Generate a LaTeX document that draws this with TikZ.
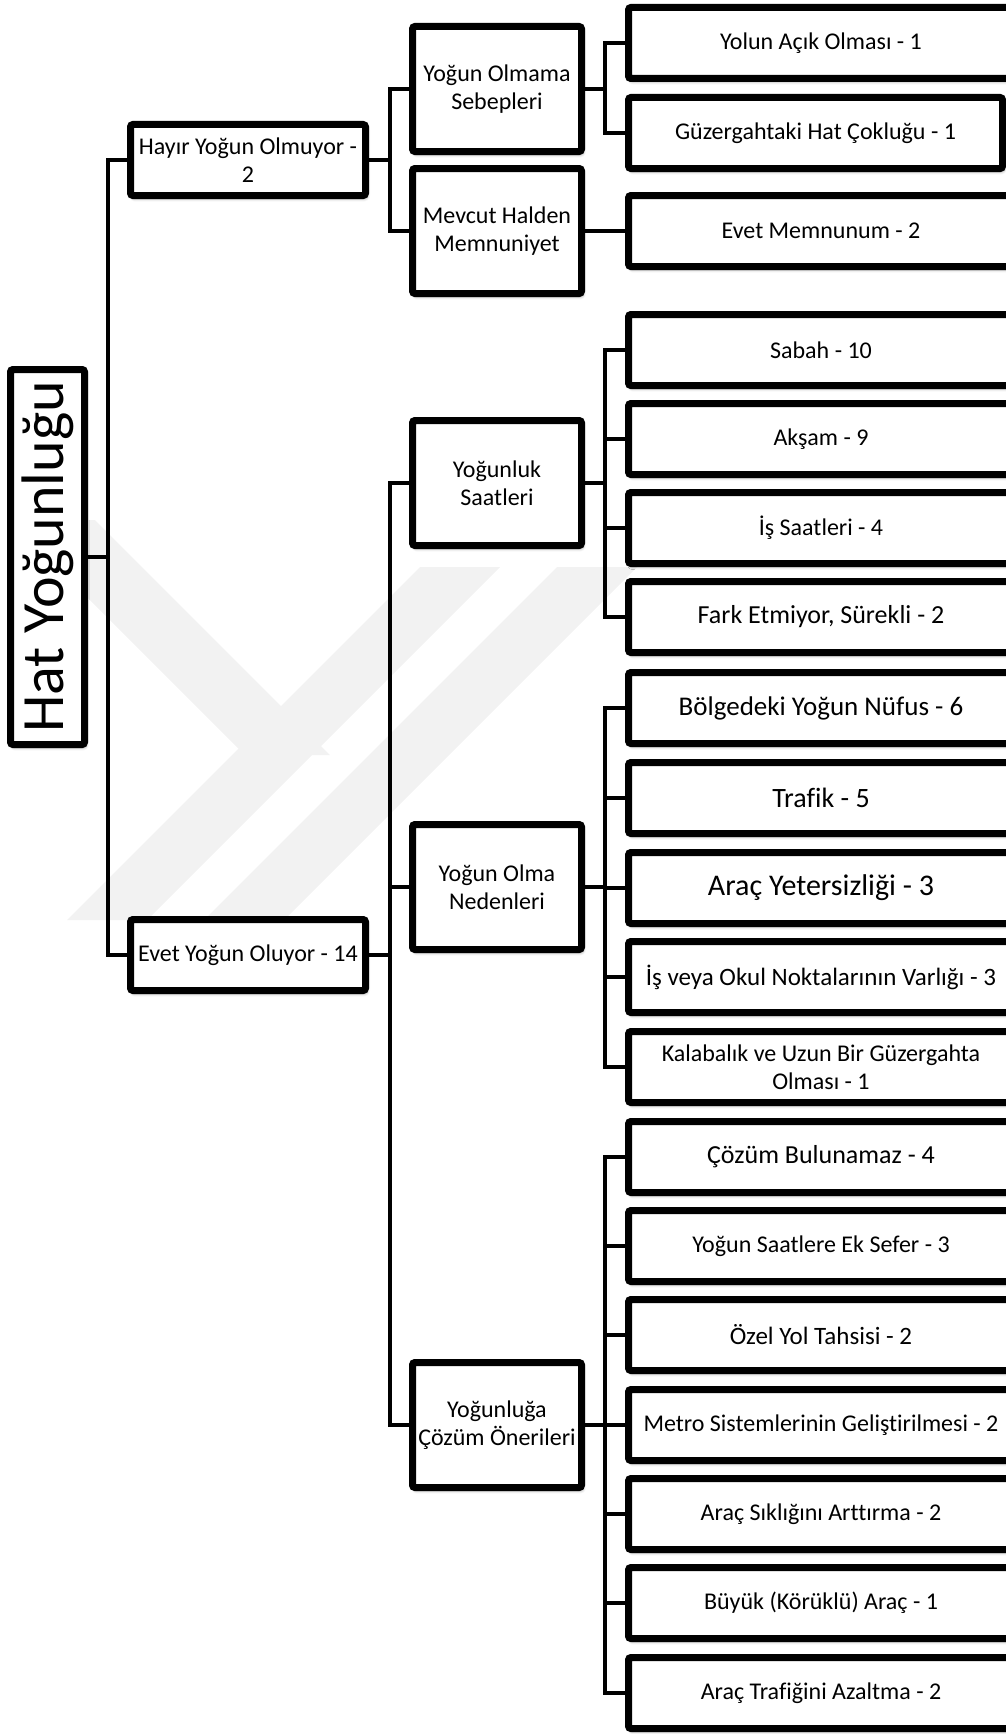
\documentclass[tikz,border=0pt]{standalone}
\usepackage{fontspec}
\usepackage{graphicx}
\setmainfont{Carlito}[Ligatures={NoCommon,NoContextual}]
\usetikzlibrary{shadows.blur}
\pgfdeclarelayer{mark}
\pgfdeclarelayer{wires}
\pgfsetlayers{mark,wires,main}

\newcommand{\fsz}[1]{\fontsize{#1}{28}\selectfont}

\begin{document}
\begin{tikzpicture}[x=1pt,y=-1pt,
  box/.style={draw=black, line width=7pt, rounded corners=2.5pt, fill=white,
    align=center, inner sep=0pt,
    blur shadow={shadow xshift=1.5pt, shadow yshift=-3pt, shadow blur radius=3pt, shadow opacity=45},
    font=\fsz{24}},
  leaf/.style={box, minimum width=385pt, minimum height=71pt},
  mid/.style={box, minimum width=169pt, minimum height=125pt},
  top/.style={box, minimum width=235pt, minimum height=71pt},
  conn/.style={line width=4.5pt, line join=miter},
  band/.style={fill=black!5, draw=none}
]
\useasboundingbox (0,0) rectangle (1006,1734);

% root
\node[box, minimum width=74pt, minimum height=375pt] (root) at (47.5,557)
  {\rotatebox{90}{\fontsize{60}{64}\selectfont Hat Yoğunluğu}};

% first level
\node[top] (hayir) at (248,160) {Hayır Yoğun Olmuyor -\\2};
\node[top] (evet)  at (248,955) {Evet Yoğun Oluyor - 14};

% second level
\node[mid] (olmama)  at (497,89)   {Yoğun Olmama\\Sebepleri};
\node[mid] (mevcut)  at (497,231)  {Mevcut Halden\\Memnuniyet};
\node[mid] (saat)    at (497,483)  {Yoğunluk\\Saatleri};
\node[mid] (neden)   at (497,887)  {Yoğun Olma\\Nedenleri};
\node[mid] (oneri)   at (497,1425) {Yoğunluğa\\Çözüm Önerileri};

% leaves
\node[leaf] (l1) at (821,43) {Yolun Açık Olması - 1};
\node[leaf, minimum width=374pt] (l2) at (815.5,133) {Güzergahtaki Hat Çokluğu - 1};
\node[leaf] (l3) at (821,231) {Evet Memnunum - 2};

\node[leaf] (s1) at (821,350) {Sabah - 10};
\node[leaf] (s2) at (821,439) {Akşam - 9};
\node[leaf] (s3) at (821,528) {İş Saatleri - 4};
\node[leaf, font=\fsz{26}] (s4) at (821,617) {Fark Etmiyor, Sürekli - 2};

\node[leaf, font=\fsz{27}] (n1) at (821,708) {Bölgedeki Yoğun Nüfus - 6};
\node[leaf, font=\fsz{28}] (n2) at (821,798) {Trafik - 5};
\node[leaf, font=\fsz{30}] (n3) at (821,888) {Araç Yetersizliği - 3};
\node[leaf, font=\fsz{25}] (n4) at (821,977) {İş veya Okul Noktalarının Varlığı - 3};
\node[leaf] (n5) at (821,1067) {Kalabalık ve Uzun Bir Güzergahta\\Olması - 1};

\node[leaf, font=\fsz{26}] (c1) at (821,1157) {Çözüm Bulunamaz - 4};
\node[leaf] (c2) at (821,1246) {Yoğun Saatlere Ek Sefer - 3};
\node[leaf, font=\fsz{25}] (c3) at (821,1335) {Özel Yol Tahsisi - 2};
\node[leaf] (c4) at (821,1425) {Metro Sistemlerinin Geliştirilmesi - 2};
\node[leaf] (c5) at (821,1514) {Araç Sıklığını Arttırma - 2};
\node[leaf] (c6) at (821,1603) {Büyük (Körüklü) Araç - 1};
\node[leaf] (c7) at (821,1693) {Araç Trafiğini Azaltma - 2};

% bus positions
\coordinate (bA) at (108,0);
\coordinate (bB) at (390,0);
\coordinate (bC) at (605,0);

% faint logo in the background
\begin{pgfonlayer}{mark}
  \fill[band] (10,520) -- (95,520) -- (330,755) -- (245,755) -- cycle;
  \fill[band] (420,567) -- (500,567) -- (147,920) -- (67,920) -- cycle;
  \fill[band] (557,567) -- (637,567) -- (284,920) -- (204,920) -- cycle;
\end{pgfonlayer}

\begin{pgfonlayer}{wires}
  % root to first level
  \draw[conn] (root.east) -- (root.east -| bA);
  \draw[conn] (hayir.west) -| (bA |- evet.west) -- (evet.west);
  % first level to second level
  \draw[conn] (hayir.east) -- (hayir.east -| bB);
  \draw[conn] (olmama.west) -| (bB |- mevcut.west) -- (mevcut.west);
  \draw[conn] (evet.east) -- (evet.east -| bB);
  \draw[conn] (saat.west) -| (bB |- oneri.west) -- (oneri.west);
  \draw[conn] (neden.west) -- (neden.west -| bB);
  % second level to leaves
  \draw[conn] (olmama.east) -- (olmama.east -| bC);
  \draw[conn] (l1.west) -| (bC |- l2.west) -- (l2.west);
  \draw[conn] (mevcut.east) -- (l3.west);
  \draw[conn] (saat.east) -- (saat.east -| bC);
  \draw[conn] (s1.west) -| (bC |- s4.west) -- (s4.west);
  \foreach \n in {s2,s3} \draw[conn] (\n.west) -- (\n.west -| bC);
  \draw[conn] (neden.east) -- (neden.east -| bC);
  \draw[conn] (n1.west) -| (bC |- n5.west) -- (n5.west);
  \foreach \n in {n2,n3,n4} \draw[conn] (\n.west) -- (\n.west -| bC);
  \draw[conn] (oneri.east) -- (oneri.east -| bC);
  \draw[conn] (c1.west) -| (bC |- c7.west) -- (c7.west);
  \foreach \n in {c2,c3,c4,c5,c6} \draw[conn] (\n.west) -- (\n.west -| bC);
\end{pgfonlayer}
\end{tikzpicture}
\end{document}
